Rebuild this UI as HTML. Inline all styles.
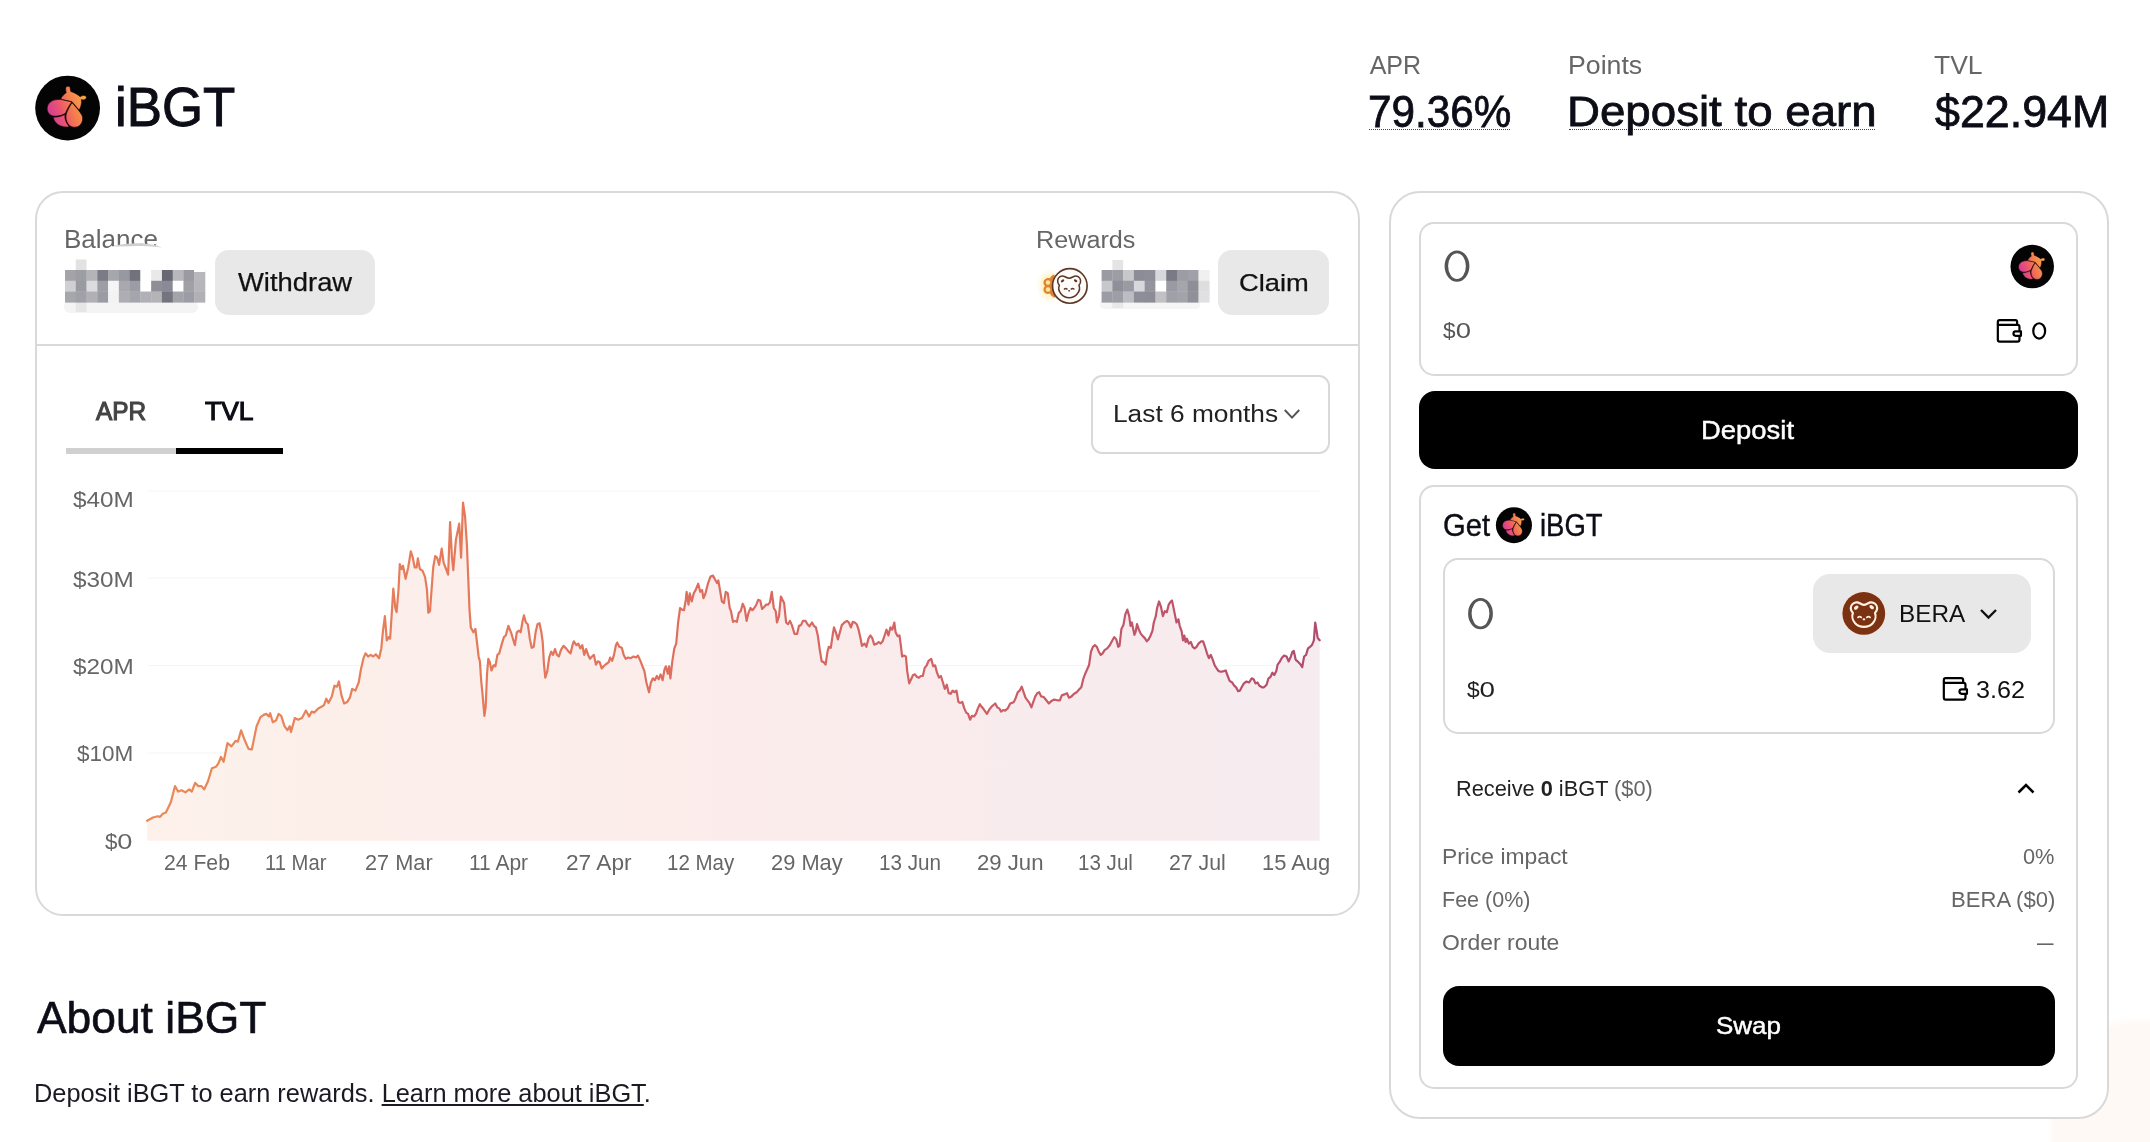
<!DOCTYPE html>
<html><head><meta charset="utf-8"><title>iBGT</title>
<style>
*{box-sizing:border-box;margin:0;padding:0}
html,body{width:2150px;height:1142px;overflow:hidden;background:#fff}
body{position:relative;font-family:"Liberation Sans",sans-serif;color:#0c0d16}
.t{position:absolute;white-space:nowrap;line-height:1}
.box{position:absolute;border:2px solid #d9d9d9;background:#fff}
.btn{position:absolute;background:#e8e8e8;border-radius:14px}
.blk{position:absolute;background:#000;border-radius:16px}
svg{position:absolute;overflow:visible}
</style></head><body>

<!-- shared symbols -->
<svg width="0" height="0" style="left:0;top:0">
<defs>
<linearGradient id="lg" gradientUnits="userSpaceOnUse" x1="250" y1="640" x2="850" y2="420"><stop offset="0" stop-color="#d0389e"/><stop offset="0.33" stop-color="#ec5470"/><stop offset="0.6" stop-color="#f47c4c"/><stop offset="1" stop-color="#f8ac4c"/></linearGradient>
<symbol id="ibgt" viewBox="0 0 1142 1142">
<circle cx="565" cy="572" r="487" fill="#040404"/>
<g fill="url(#lg)" stroke="#1a0508" stroke-width="9" stroke-linejoin="round">
<path d="M462 438C475 395 515 360 545 340C540 315 530 285 540 262C552 238 592 238 602 265C608 290 608 310 612 322C660 335 720 370 755 402C775 385 815 375 838 392C858 412 845 440 815 448C800 452 782 448 772 445C780 500 765 560 738 602L632 478Z"/>
<path d="M462 442L628 480C590 530 555 590 535 648C490 680 420 700 350 692C290 680 255 630 258 575C262 510 310 460 380 448C410 443 440 441 462 442Z"/>
<path d="M348 708C410 712 480 695 524 668C518 730 540 800 588 848C540 868 470 852 415 815C375 785 352 745 348 708Z"/>
<path d="M632 492C680 550 750 620 780 680C805 740 785 810 730 845C680 872 620 860 585 825C545 780 530 710 548 655C565 600 600 540 632 492Z"/>
</g>
</symbol>
<symbol id="wallet" viewBox="0 0 1923 1142">
<g fill="none" stroke="#000" stroke-width="66" stroke-linejoin="round">
<path d="M235 385V300Q235 245 290 245H760Q815 245 815 300V385"/>
<path d="M235 385H830Q885 385 885 440V835Q885 890 830 890H290Q235 890 235 835Z"/>
<path d="M930 580H770Q705 580 705 648Q705 715 770 715H930Z" fill="#fff"/>
</g>
</symbol>
</defs></svg>

<!-- corner blob -->
<div style="position:absolute;left:2051px;top:1021px;width:160px;height:200px;border-radius:80px 0 0 0;background:#fef9f5;filter:blur(2.500px)"></div>

<!-- header logo -->
<svg style="left:30px;top:70px" width="76" height="76"><use href="#ibgt" width="76" height="76"/></svg>

<div style="position:absolute;left:1369px;top:128.500px;width:141px;border-top:1.500px dotted #444"></div>
<div style="position:absolute;left:1569px;top:128.500px;width:306px;border-top:1.500px dotted #444"></div>

<!-- left card -->
<div class="box" style="left:34.500px;top:190.500px;width:1325px;height:725px;border-radius:28px"></div>
<div style="position:absolute;left:36px;top:343.500px;width:1322px;height:2px;background:#d9d9d9"></div>

<div class="btn" style="left:215px;top:250px;width:159.500px;height:65px"></div>
<div class="btn" style="left:1218px;top:250px;width:111px;height:64.500px"></div>

<!-- reward bear icon -->
<svg style="left:1030px;top:260px" width="64" height="52" viewBox="0 0 1406 1142">
<defs><radialGradient id="glow"><stop offset="0" stop-color="#ffe9a0" stop-opacity="0.95"/><stop offset="0.55" stop-color="#fff0bd" stop-opacity="0.7"/><stop offset="1" stop-color="#fff6da" stop-opacity="0"/></radialGradient></defs>
<ellipse cx="420" cy="570" rx="290" ry="400" fill="url(#glow)"/>
<path d="M540 320C480 330 450 370 440 400C380 380 300 420 295 490C292 530 315 560 330 570C300 600 290 640 300 680C320 740 390 760 440 735C455 780 500 820 560 830Z" fill="#dd8434"/>
<circle cx="395" cy="492" r="50" fill="#ffe690"/><circle cx="395" cy="647" r="50" fill="#ffe690"/>
<circle cx="875" cy="570" r="380" fill="#fffdfb" stroke="#5e3624" stroke-width="36"/>
<path d="M860 400C820 400 780 370 740 355C690 340 620 370 608 440C600 490 625 530 645 555C625 600 630 680 680 740C730 800 800 830 860 830C920 830 990 800 1040 740C1090 680 1095 600 1075 555C1095 530 1120 490 1110 440C1098 370 1030 340 980 355C940 370 900 400 860 400Z" fill="none" stroke="#5e3624" stroke-width="34" stroke-linejoin="round"/>
<ellipse cx="715" cy="458" rx="42" ry="26" transform="rotate(-35 715 458)" fill="#5e3624"/><ellipse cx="1002" cy="455" rx="42" ry="26" transform="rotate(35 1002 455)" fill="#5e3624"/>
<path d="M755 640Q785 615 815 640M905 640Q935 615 965 640" fill="none" stroke="#5e3624" stroke-width="30" stroke-linecap="round"/>
<ellipse cx="860" cy="678" rx="22" ry="17" fill="#5e3624"/>
</svg>

<svg style="left:0;top:0" width="2150" height="400" viewBox="0 0 2150 400"><rect x="64" y="300" width="134" height="13" rx="6" fill="#f4f4f4"/><rect x="75.77" y="259.5" width="10.77" height="10.5" fill="#e2e2e2"/><rect x="75.77" y="302" width="10.77" height="10" fill="#e6e6e6"/><rect x="65.00" y="270.00" width="11.07" height="11.07" fill="#a3a3a9"/><rect x="75.77" y="270.00" width="11.07" height="11.07" fill="#9d9da5"/><rect x="86.54" y="270.00" width="11.07" height="11.07" fill="#b3b3b8"/><rect x="97.31" y="270.00" width="11.07" height="11.07" fill="#7b7b86"/><rect x="108.08" y="270.00" width="11.07" height="11.07" fill="#a6a6ad"/><rect x="118.85" y="270.00" width="11.07" height="11.07" fill="#9898a2"/><rect x="129.62" y="270.00" width="11.07" height="11.07" fill="#72727d"/><rect x="140.39" y="270.00" width="11.07" height="11.07" fill="#ffffff"/><rect x="151.16" y="270.00" width="11.07" height="11.07" fill="#e9e9e9"/><rect x="161.93" y="270.00" width="11.07" height="11.07" fill="#686875"/><rect x="172.70" y="270.00" width="11.07" height="11.07" fill="#b8b8bc"/><rect x="183.47" y="270.00" width="11.07" height="11.07" fill="#9a9aa2"/><rect x="194.24" y="270.00" width="11.07" height="11.07" fill="#b7b7bc"/><rect x="65.00" y="280.77" width="11.07" height="11.07" fill="#d0d0d4"/><rect x="75.77" y="280.77" width="11.07" height="11.07" fill="#9a9aa2"/><rect x="86.54" y="280.77" width="11.07" height="11.07" fill="#dcdcdf"/><rect x="97.31" y="280.77" width="11.07" height="11.07" fill="#9d9da5"/><rect x="108.08" y="280.77" width="11.07" height="11.07" fill="#f5f5f5"/><rect x="118.85" y="280.77" width="11.07" height="11.07" fill="#a8a8ae"/><rect x="129.62" y="280.77" width="11.07" height="11.07" fill="#9c9ca5"/><rect x="140.39" y="280.77" width="11.07" height="11.07" fill="#ffffff"/><rect x="151.16" y="280.77" width="11.07" height="11.07" fill="#8e8e98"/><rect x="161.93" y="280.77" width="11.07" height="11.07" fill="#8a8a96"/><rect x="172.70" y="280.77" width="11.07" height="11.07" fill="#ffffff"/><rect x="183.47" y="280.77" width="11.07" height="11.07" fill="#a0a0a6"/><rect x="194.24" y="280.77" width="11.07" height="11.07" fill="#b5b5ba"/><rect x="65.00" y="291.54" width="11.07" height="11.07" fill="#a6a6ad"/><rect x="75.77" y="291.54" width="11.07" height="11.07" fill="#a0a0a8"/><rect x="86.54" y="291.54" width="11.07" height="11.07" fill="#b0b0b6"/><rect x="97.31" y="291.54" width="11.07" height="11.07" fill="#9b9ba3"/><rect x="108.08" y="291.54" width="11.07" height="11.07" fill="#f3f3f3"/><rect x="118.85" y="291.54" width="11.07" height="11.07" fill="#adadb3"/><rect x="129.62" y="291.54" width="11.07" height="11.07" fill="#a5a5ad"/><rect x="140.39" y="291.54" width="11.07" height="11.07" fill="#b0b0b6"/><rect x="151.16" y="291.54" width="11.07" height="11.07" fill="#b3b3b8"/><rect x="161.93" y="291.54" width="11.07" height="11.07" fill="#74747f"/><rect x="172.70" y="291.54" width="11.07" height="11.07" fill="#a3a3aa"/><rect x="183.47" y="291.54" width="11.07" height="11.07" fill="#9c9ca4"/><rect x="194.24" y="291.54" width="11.07" height="11.07" fill="#b0b0b6"/><rect x="194" y="270" width="11.500" height="2" fill="#fff"/><rect x="1100" y="300" width="100" height="9" rx="4" fill="#f5f5f5"/><rect x="1112.37" y="260" width="10.77" height="10" fill="#e4e4e4"/><rect x="1112.37" y="302" width="10.77" height="6" fill="#e8e8e8"/><rect x="1101.60" y="270.00" width="11.07" height="11.07" fill="#9a9aa2"/><rect x="1112.37" y="270.00" width="11.07" height="11.07" fill="#9d9da5"/><rect x="1123.14" y="270.00" width="11.07" height="11.07" fill="#c8c8cc"/><rect x="1133.91" y="270.00" width="11.07" height="11.07" fill="#8c8c96"/><rect x="1144.68" y="270.00" width="11.07" height="11.07" fill="#8e8e98"/><rect x="1155.45" y="270.00" width="11.07" height="11.07" fill="#d8d8dc"/><rect x="1166.22" y="270.00" width="11.07" height="11.07" fill="#7a7a86"/><rect x="1176.99" y="270.00" width="11.07" height="11.07" fill="#9c9ca4"/><rect x="1187.76" y="270.00" width="11.07" height="11.07" fill="#a0a0a8"/><rect x="1198.53" y="270.00" width="11.07" height="11.07" fill="#f0f0f0"/><rect x="1101.60" y="280.77" width="11.07" height="11.07" fill="#c8c8cc"/><rect x="1112.37" y="280.77" width="11.07" height="11.07" fill="#8f8f99"/><rect x="1123.14" y="280.77" width="11.07" height="11.07" fill="#9a9aa2"/><rect x="1133.91" y="280.77" width="11.07" height="11.07" fill="#d8d8dc"/><rect x="1144.68" y="280.77" width="11.07" height="11.07" fill="#94949e"/><rect x="1155.45" y="280.77" width="11.07" height="11.07" fill="#ffffff"/><rect x="1166.22" y="280.77" width="11.07" height="11.07" fill="#9a9aa2"/><rect x="1176.99" y="280.77" width="11.07" height="11.07" fill="#a5a5ad"/><rect x="1187.76" y="280.77" width="11.07" height="11.07" fill="#8e8e98"/><rect x="1198.53" y="280.77" width="11.07" height="11.07" fill="#dedee0"/><rect x="1101.60" y="291.54" width="11.07" height="11.07" fill="#9c9ca4"/><rect x="1112.37" y="291.54" width="11.07" height="11.07" fill="#9e9ea6"/><rect x="1123.14" y="291.54" width="11.07" height="11.07" fill="#bcbcc2"/><rect x="1133.91" y="291.54" width="11.07" height="11.07" fill="#8e8e98"/><rect x="1144.68" y="291.54" width="11.07" height="11.07" fill="#8c8c96"/><rect x="1155.45" y="291.54" width="11.07" height="11.07" fill="#c0c0c5"/><rect x="1166.22" y="291.54" width="11.07" height="11.07" fill="#a0a0a8"/><rect x="1176.99" y="291.54" width="11.07" height="11.07" fill="#a3a3aa"/><rect x="1187.76" y="291.54" width="11.07" height="11.07" fill="#90909a"/><rect x="1198.53" y="291.54" width="11.07" height="11.07" fill="#e0e0e2"/></svg>

<!-- tabs -->
<div style="position:absolute;left:65.500px;top:448px;width:110px;height:6px;background:#d0d0d0"></div>
<div style="position:absolute;left:175.500px;top:448px;width:107px;height:6px;background:#000"></div>

<div class="box" style="left:1090.500px;top:374.500px;width:239px;height:79px;border-radius:11px"></div>
<svg style="left:1284px;top:409px" width="16" height="10" viewBox="0 0 16 10"><path d="M0.800 1L8 8.600L15.200 1" fill="none" stroke="#555" stroke-width="2"/></svg>

<!-- chart -->
<svg id="chart" style="left:0;top:0" width="2150" height="1142" viewBox="0 0 2150 1142">
<defs>
<linearGradient id="cl" gradientUnits="userSpaceOnUse" x1="146" y1="0" x2="1320" y2="0"><stop offset="0" stop-color="#ea8a58"/><stop offset="0.4" stop-color="#e2725c"/><stop offset="0.7" stop-color="#cf5f64"/><stop offset="1" stop-color="#b14c6e"/></linearGradient>
<linearGradient id="cf" gradientUnits="userSpaceOnUse" x1="146" y1="0" x2="1320" y2="0"><stop offset="0" stop-color="#fdf1ea"/><stop offset="0.5" stop-color="#fbeceb"/><stop offset="1" stop-color="#f6ebef"/></linearGradient>
</defs>
<g stroke="#f5f5f5" stroke-width="1.200">
<line x1="148" y1="491" x2="1320" y2="491"/><line x1="148" y1="578" x2="1320" y2="578"/><line x1="148" y1="665.500" x2="1320" y2="665.500"/><line x1="148" y1="753" x2="1320" y2="753"/>
</g>
<path d="M147.1 820.8 L153.0 817.5 L157.8 816.2 L160.1 816.9 L162.7 813.7 L165.9 812.4 L170.8 802.3 L175.0 786.1 L178.2 791.6 L181.5 790.3 L185.4 792.3 L189.2 789.4 L191.8 791.6 L195.1 782.9 L198.3 786.1 L201.5 786.1 L204.1 789.4 L208.0 781.3 L211.9 768.3 L216.1 766.7 L218.4 763.4 L221.0 757.0 L223.6 761.8 L227.5 743.0 L231.4 746.3 L235.6 740.8 L237.8 741.7 L241.1 730.4 L244.3 739.2 L248.5 748.9 L251.8 749.5 L256.6 726.2 L260.5 717.1 L263.7 714.9 L266.3 713.9 L268.9 716.5 L270.2 713.2 L272.8 722.3 L276.1 720.4 L278.6 713.9 L281.2 715.8 L284.5 726.2 L287.4 730.1 L289.7 726.2 L291.0 732.0 L294.8 718.1 L298.1 719.7 L302.0 718.1 L305.9 710.6 L309.1 716.5 L311.7 711.6 L314.3 712.6 L318.2 708.4 L321.4 706.8 L324.0 705.1 L326.3 698.7 L328.5 702.9 L331.8 696.4 L334.4 685.7 L337.0 686.7 L338.9 681.5 L341.5 695.4 L344.1 703.5 L347.3 701.9 L349.9 697.7 L352.2 688.9 L355.4 690.6 L358.7 682.5 L360.9 669.5 L363.5 658.2 L365.5 653.3 L368.1 656.5 L370.6 654.9 L373.2 656.5 L375.8 654.3 L379.1 658.2 L381.3 648.4 L383.0 630.6 L384.9 616.1 L386.8 640.3 L388.8 637.1 L390.1 638.7 L392.0 609.6 L393.3 588.5 L395.3 608.0 L396.6 612.2 L398.5 590.1 L399.8 564.2 L401.7 569.1 L403.0 565.8 L405.6 578.8 L408.2 567.5 L410.8 551.3 L412.8 557.7 L414.7 567.5 L416.6 567.5 L417.9 558.4 L419.9 569.1 L422.5 570.7 L425.1 577.2 L427.0 590.1 L428.3 612.8 L430.0 611.2 L431.3 593.4 L433.2 567.5 L435.2 556.1 L437.1 557.7 L439.1 564.9 L441.7 548.7 L443.6 562.6 L445.5 567.5 L448.1 574.6 L450.1 522.1 L452.0 557.7 L453.3 570.1 L455.9 539.9 L459.2 523.7 L461.1 557.7 L463.0 502.7 L465.0 515.6 L466.9 544.8 L468.2 577.2 L469.5 609.6 L470.8 627.4 L473.4 632.3 L475.4 629.0 L477.3 645.2 L478.6 656.5 L479.9 661.4 L481.2 680.8 L482.5 693.8 L484.4 715.8 L485.7 706.8 L487.0 674.4 L488.3 658.8 L489.6 661.4 L491.5 670.5 L493.5 665.3 L495.4 666.3 L497.4 654.9 L499.3 653.3 L501.9 643.6 L503.9 637.1 L505.8 635.5 L508.4 625.8 L511.0 632.3 L512.9 638.7 L514.9 645.2 L516.8 632.3 L518.8 630.6 L520.7 632.3 L522.6 620.9 L523.9 615.4 L525.9 622.5 L527.8 624.2 L529.8 638.7 L531.7 647.8 L533.7 646.8 L535.6 632.3 L537.5 624.2 L539.5 623.2 L541.4 632.3 L542.7 642.0 L544.0 664.6 L545.3 677.6 L547.3 671.1 L549.2 657.5 L551.2 651.7 L553.1 654.9 L555.0 649.1 L557.0 654.9 L558.9 656.5 L560.9 650.1 L563.5 645.9 L566.1 648.4 L568.6 651.7 L570.6 653.3 L572.5 645.2 L573.8 641.3 L576.4 645.2 L578.4 643.6 L580.3 648.4 L582.3 645.2 L584.2 654.9 L586.1 649.1 L588.1 654.9 L590.0 658.8 L592.0 656.5 L593.9 654.9 L595.9 664.6 L597.8 661.4 L599.7 662.1 L601.7 668.5 L603.6 666.3 L606.2 664.0 L608.8 662.1 L610.1 657.5 L612.1 660.8 L614.0 654.9 L615.9 645.2 L617.2 642.6 L619.2 646.8 L621.8 647.8 L623.7 654.9 L625.7 658.8 L628.3 657.5 L630.8 658.2 L633.4 656.5 L636.0 657.5 L638.0 655.6 L640.6 661.4 L642.5 666.3 L644.4 671.1 L646.4 682.5 L649.0 692.2 L650.9 682.5 L652.9 678.3 L654.8 680.2 L656.8 676.0 L658.7 679.2 L660.6 674.4 L662.6 680.2 L664.5 669.5 L665.8 666.3 L667.8 673.7 L669.1 666.3 L670.4 678.3 L672.3 661.4 L674.3 648.4 L676.2 643.6 L678.1 622.5 L680.1 608.0 L682.0 609.6 L684.0 610.2 L685.9 599.2 L686.6 591.8 L688.5 604.7 L689.8 593.4 L691.7 601.5 L693.7 593.4 L695.6 590.1 L698.2 583.7 L700.2 591.8 L702.1 590.1 L703.4 598.2 L705.3 594.0 L707.9 583.7 L710.5 576.5 L713.1 575.6 L715.1 579.8 L717.0 583.0 L718.3 580.4 L720.0 590.1 L721.9 601.5 L723.9 603.1 L725.8 591.8 L727.8 593.4 L729.7 608.0 L731.0 611.2 L733.0 621.9 L734.9 620.9 L736.8 621.9 L738.8 612.8 L740.7 611.2 L742.7 603.7 L744.6 608.0 L746.6 620.9 L748.5 612.8 L750.5 608.0 L752.4 610.2 L754.3 608.0 L756.3 604.7 L758.2 599.9 L760.2 600.5 L762.1 608.9 L764.1 607.0 L766.0 604.7 L767.9 604.7 L769.9 602.4 L771.8 591.8 L773.8 608.0 L775.7 611.2 L777.0 622.5 L779.0 616.1 L780.9 596.6 L782.8 600.5 L784.1 603.1 L786.1 622.5 L788.0 624.2 L790.0 620.9 L791.9 625.1 L794.5 633.9 L797.1 633.9 L799.0 625.8 L801.0 625.1 L802.9 620.9 L805.5 620.9 L807.5 624.2 L809.4 626.4 L812.0 622.5 L813.9 625.8 L815.9 627.4 L817.8 635.5 L819.8 650.1 L821.7 661.4 L823.7 662.1 L825.6 664.6 L827.5 651.7 L828.8 646.8 L830.8 647.8 L832.7 634.8 L834.0 627.4 L836.0 632.9 L837.9 639.4 L839.9 632.3 L841.8 625.1 L844.4 622.5 L847.0 620.9 L848.9 622.5 L850.9 627.4 L852.8 621.9 L854.8 622.5 L856.7 624.2 L858.6 629.7 L860.6 638.7 L861.9 645.9 L864.5 643.6 L866.4 646.8 L868.4 638.7 L870.3 635.5 L872.3 638.1 L874.2 644.6 L876.8 643.6 L878.7 642.0 L880.7 643.6 L882.6 641.3 L884.6 635.5 L886.5 629.7 L888.4 635.5 L890.4 627.4 L892.3 629.7 L894.3 622.5 L895.6 632.3 L897.5 636.1 L899.5 635.5 L900.8 645.2 L902.1 656.5 L904.0 655.6 L905.9 656.5 L907.2 671.1 L909.2 683.4 L911.1 679.2 L913.1 675.0 L915.0 674.4 L917.0 677.0 L918.9 677.6 L920.8 676.0 L922.8 676.0 L924.7 667.9 L926.7 665.3 L928.6 660.8 L931.2 658.8 L933.2 666.3 L935.1 665.3 L937.0 672.7 L939.0 677.6 L940.9 676.0 L942.9 682.5 L944.8 688.9 L946.8 684.7 L948.7 693.2 L950.6 693.8 L952.6 690.6 L954.5 692.2 L956.5 690.6 L958.4 701.9 L960.4 702.9 L962.3 701.9 L964.3 708.4 L966.2 712.6 L968.1 713.9 L970.1 719.7 L972.0 715.8 L974.0 716.5 L975.9 713.9 L977.9 708.4 L979.8 704.2 L981.7 706.8 L983.7 709.3 L986.9 713.9 L989.5 709.3 L992.1 706.1 L995.3 703.5 L997.3 707.4 L999.2 708.4 L1001.2 711.6 L1003.1 710.0 L1005.1 710.6 L1007.7 708.4 L1010.2 703.5 L1011.9 702.9 L1013.9 701.9 L1015.8 697.7 L1017.8 692.2 L1019.7 690.6 L1021.7 686.7 L1023.6 692.2 L1025.5 697.7 L1027.5 700.3 L1029.4 702.9 L1031.4 707.4 L1033.3 701.9 L1035.3 696.4 L1037.2 693.2 L1039.2 692.2 L1041.1 696.4 L1043.7 697.0 L1046.3 700.3 L1048.9 703.5 L1051.5 700.9 L1054.1 699.6 L1057.3 700.3 L1059.9 700.3 L1061.8 695.4 L1064.4 694.4 L1067.0 693.2 L1069.0 697.7 L1071.5 696.4 L1074.1 693.8 L1076.7 692.2 L1078.7 689.9 L1081.3 687.3 L1083.2 679.2 L1085.2 673.7 L1087.1 669.5 L1089.0 665.3 L1091.0 651.7 L1092.9 646.8 L1094.9 645.2 L1096.8 646.8 L1098.8 651.7 L1100.7 654.9 L1102.6 653.3 L1104.6 650.1 L1107.2 648.4 L1109.8 645.2 L1112.4 640.3 L1114.3 637.1 L1116.3 639.4 L1118.2 646.8 L1119.5 645.9 L1121.4 629.0 L1123.4 625.1 L1125.3 614.4 L1127.3 609.6 L1129.2 616.1 L1130.5 625.8 L1131.8 622.5 L1133.1 628.4 L1134.4 634.8 L1135.7 631.6 L1137.0 624.2 L1138.9 629.7 L1140.9 633.9 L1142.8 636.1 L1144.8 638.1 L1146.7 641.3 L1148.6 639.4 L1150.6 635.5 L1152.5 630.6 L1153.8 622.5 L1155.8 616.1 L1157.1 608.0 L1159.0 601.5 L1161.0 607.0 L1162.9 616.1 L1164.8 611.2 L1166.8 612.2 L1168.7 604.7 L1170.7 601.5 L1172.0 600.5 L1173.9 609.6 L1175.2 616.1 L1176.5 622.5 L1178.4 619.3 L1179.7 625.8 L1181.7 631.6 L1183.0 640.3 L1184.3 635.5 L1185.6 642.0 L1186.9 638.7 L1188.8 643.6 L1190.8 642.0 L1192.7 646.8 L1194.6 648.4 L1196.6 646.8 L1198.5 643.6 L1201.1 641.3 L1203.1 641.3 L1205.0 646.8 L1207.0 653.3 L1208.9 658.2 L1210.8 654.9 L1212.8 659.8 L1214.7 665.3 L1216.7 668.5 L1218.6 671.1 L1221.2 671.8 L1223.8 671.1 L1225.7 670.5 L1227.7 676.0 L1229.6 680.8 L1232.2 682.5 L1234.2 685.7 L1236.1 687.3 L1238.1 691.2 L1240.0 690.6 L1241.9 686.7 L1243.9 683.4 L1246.5 681.5 L1249.1 682.5 L1251.7 678.3 L1253.6 679.2 L1255.5 683.4 L1257.5 682.5 L1259.4 685.7 L1262.0 687.3 L1264.0 687.3 L1266.6 684.7 L1268.5 678.3 L1270.4 677.0 L1272.4 672.7 L1274.3 675.0 L1276.3 671.1 L1277.6 664.6 L1279.5 662.1 L1282.1 657.5 L1284.1 655.6 L1286.6 656.5 L1288.6 661.4 L1290.5 657.5 L1292.5 651.7 L1293.8 651.0 L1295.7 659.8 L1297.7 661.4 L1300.2 664.0 L1302.2 667.2 L1304.1 656.5 L1306.1 654.9 L1308.0 648.4 L1310.0 646.8 L1311.9 645.2 L1313.9 640.3 L1315.2 622.5 L1316.4 629.7 L1317.7 638.1 L1319.7 640.3 L1319.7 840.8 L147.1 840.8 Z" fill="url(#cf)"/>
<path d="M147.1 820.8 L153.0 817.5 L157.8 816.2 L160.1 816.9 L162.7 813.7 L165.9 812.4 L170.8 802.3 L175.0 786.1 L178.2 791.6 L181.5 790.3 L185.4 792.3 L189.2 789.4 L191.8 791.6 L195.1 782.9 L198.3 786.1 L201.5 786.1 L204.1 789.4 L208.0 781.3 L211.9 768.3 L216.1 766.7 L218.4 763.4 L221.0 757.0 L223.6 761.8 L227.5 743.0 L231.4 746.3 L235.6 740.8 L237.8 741.7 L241.1 730.4 L244.3 739.2 L248.5 748.9 L251.8 749.5 L256.6 726.2 L260.5 717.1 L263.7 714.9 L266.3 713.9 L268.9 716.5 L270.2 713.2 L272.8 722.3 L276.1 720.4 L278.6 713.9 L281.2 715.8 L284.5 726.2 L287.4 730.1 L289.7 726.2 L291.0 732.0 L294.8 718.1 L298.1 719.7 L302.0 718.1 L305.9 710.6 L309.1 716.5 L311.7 711.6 L314.3 712.6 L318.2 708.4 L321.4 706.8 L324.0 705.1 L326.3 698.7 L328.5 702.9 L331.8 696.4 L334.4 685.7 L337.0 686.7 L338.9 681.5 L341.5 695.4 L344.1 703.5 L347.3 701.9 L349.9 697.7 L352.2 688.9 L355.4 690.6 L358.7 682.5 L360.9 669.5 L363.5 658.2 L365.5 653.3 L368.1 656.5 L370.6 654.9 L373.2 656.5 L375.8 654.3 L379.1 658.2 L381.3 648.4 L383.0 630.6 L384.9 616.1 L386.8 640.3 L388.8 637.1 L390.1 638.7 L392.0 609.6 L393.3 588.5 L395.3 608.0 L396.6 612.2 L398.5 590.1 L399.8 564.2 L401.7 569.1 L403.0 565.8 L405.6 578.8 L408.2 567.5 L410.8 551.3 L412.8 557.7 L414.7 567.5 L416.6 567.5 L417.9 558.4 L419.9 569.1 L422.5 570.7 L425.1 577.2 L427.0 590.1 L428.3 612.8 L430.0 611.2 L431.3 593.4 L433.2 567.5 L435.2 556.1 L437.1 557.7 L439.1 564.9 L441.7 548.7 L443.6 562.6 L445.5 567.5 L448.1 574.6 L450.1 522.1 L452.0 557.7 L453.3 570.1 L455.9 539.9 L459.2 523.7 L461.1 557.7 L463.0 502.7 L465.0 515.6 L466.9 544.8 L468.2 577.2 L469.5 609.6 L470.8 627.4 L473.4 632.3 L475.4 629.0 L477.3 645.2 L478.6 656.5 L479.9 661.4 L481.2 680.8 L482.5 693.8 L484.4 715.8 L485.7 706.8 L487.0 674.4 L488.3 658.8 L489.6 661.4 L491.5 670.5 L493.5 665.3 L495.4 666.3 L497.4 654.9 L499.3 653.3 L501.9 643.6 L503.9 637.1 L505.8 635.5 L508.4 625.8 L511.0 632.3 L512.9 638.7 L514.9 645.2 L516.8 632.3 L518.8 630.6 L520.7 632.3 L522.6 620.9 L523.9 615.4 L525.9 622.5 L527.8 624.2 L529.8 638.7 L531.7 647.8 L533.7 646.8 L535.6 632.3 L537.5 624.2 L539.5 623.2 L541.4 632.3 L542.7 642.0 L544.0 664.6 L545.3 677.6 L547.3 671.1 L549.2 657.5 L551.2 651.7 L553.1 654.9 L555.0 649.1 L557.0 654.9 L558.9 656.5 L560.9 650.1 L563.5 645.9 L566.1 648.4 L568.6 651.7 L570.6 653.3 L572.5 645.2 L573.8 641.3 L576.4 645.2 L578.4 643.6 L580.3 648.4 L582.3 645.2 L584.2 654.9 L586.1 649.1 L588.1 654.9 L590.0 658.8 L592.0 656.5 L593.9 654.9 L595.9 664.6 L597.8 661.4 L599.7 662.1 L601.7 668.5 L603.6 666.3 L606.2 664.0 L608.8 662.1 L610.1 657.5 L612.1 660.8 L614.0 654.9 L615.9 645.2 L617.2 642.6 L619.2 646.8 L621.8 647.8 L623.7 654.9 L625.7 658.8 L628.3 657.5 L630.8 658.2 L633.4 656.5 L636.0 657.5 L638.0 655.6 L640.6 661.4 L642.5 666.3 L644.4 671.1 L646.4 682.5 L649.0 692.2 L650.9 682.5 L652.9 678.3 L654.8 680.2 L656.8 676.0 L658.7 679.2 L660.6 674.4 L662.6 680.2 L664.5 669.5 L665.8 666.3 L667.8 673.7 L669.1 666.3 L670.4 678.3 L672.3 661.4 L674.3 648.4 L676.2 643.6 L678.1 622.5 L680.1 608.0 L682.0 609.6 L684.0 610.2 L685.9 599.2 L686.6 591.8 L688.5 604.7 L689.8 593.4 L691.7 601.5 L693.7 593.4 L695.6 590.1 L698.2 583.7 L700.2 591.8 L702.1 590.1 L703.4 598.2 L705.3 594.0 L707.9 583.7 L710.5 576.5 L713.1 575.6 L715.1 579.8 L717.0 583.0 L718.3 580.4 L720.0 590.1 L721.9 601.5 L723.9 603.1 L725.8 591.8 L727.8 593.4 L729.7 608.0 L731.0 611.2 L733.0 621.9 L734.9 620.9 L736.8 621.9 L738.8 612.8 L740.7 611.2 L742.7 603.7 L744.6 608.0 L746.6 620.9 L748.5 612.8 L750.5 608.0 L752.4 610.2 L754.3 608.0 L756.3 604.7 L758.2 599.9 L760.2 600.5 L762.1 608.9 L764.1 607.0 L766.0 604.7 L767.9 604.7 L769.9 602.4 L771.8 591.8 L773.8 608.0 L775.7 611.2 L777.0 622.5 L779.0 616.1 L780.9 596.6 L782.8 600.5 L784.1 603.1 L786.1 622.5 L788.0 624.2 L790.0 620.9 L791.9 625.1 L794.5 633.9 L797.1 633.9 L799.0 625.8 L801.0 625.1 L802.9 620.9 L805.5 620.9 L807.5 624.2 L809.4 626.4 L812.0 622.5 L813.9 625.8 L815.9 627.4 L817.8 635.5 L819.8 650.1 L821.7 661.4 L823.7 662.1 L825.6 664.6 L827.5 651.7 L828.8 646.8 L830.8 647.8 L832.7 634.8 L834.0 627.4 L836.0 632.9 L837.9 639.4 L839.9 632.3 L841.8 625.1 L844.4 622.5 L847.0 620.9 L848.9 622.5 L850.9 627.4 L852.8 621.9 L854.8 622.5 L856.7 624.2 L858.6 629.7 L860.6 638.7 L861.9 645.9 L864.5 643.6 L866.4 646.8 L868.4 638.7 L870.3 635.5 L872.3 638.1 L874.2 644.6 L876.8 643.6 L878.7 642.0 L880.7 643.6 L882.6 641.3 L884.6 635.5 L886.5 629.7 L888.4 635.5 L890.4 627.4 L892.3 629.7 L894.3 622.5 L895.6 632.3 L897.5 636.1 L899.5 635.5 L900.8 645.2 L902.1 656.5 L904.0 655.6 L905.9 656.5 L907.2 671.1 L909.2 683.4 L911.1 679.2 L913.1 675.0 L915.0 674.4 L917.0 677.0 L918.9 677.6 L920.8 676.0 L922.8 676.0 L924.7 667.9 L926.7 665.3 L928.6 660.8 L931.2 658.8 L933.2 666.3 L935.1 665.3 L937.0 672.7 L939.0 677.6 L940.9 676.0 L942.9 682.5 L944.8 688.9 L946.8 684.7 L948.7 693.2 L950.6 693.8 L952.6 690.6 L954.5 692.2 L956.5 690.6 L958.4 701.9 L960.4 702.9 L962.3 701.9 L964.3 708.4 L966.2 712.6 L968.1 713.9 L970.1 719.7 L972.0 715.8 L974.0 716.5 L975.9 713.9 L977.9 708.4 L979.8 704.2 L981.7 706.8 L983.7 709.3 L986.9 713.9 L989.5 709.3 L992.1 706.1 L995.3 703.5 L997.3 707.4 L999.2 708.4 L1001.2 711.6 L1003.1 710.0 L1005.1 710.6 L1007.7 708.4 L1010.2 703.5 L1011.9 702.9 L1013.9 701.9 L1015.8 697.7 L1017.8 692.2 L1019.7 690.6 L1021.7 686.7 L1023.6 692.2 L1025.5 697.7 L1027.5 700.3 L1029.4 702.9 L1031.4 707.4 L1033.3 701.9 L1035.3 696.4 L1037.2 693.2 L1039.2 692.2 L1041.1 696.4 L1043.7 697.0 L1046.3 700.3 L1048.9 703.5 L1051.5 700.9 L1054.1 699.6 L1057.3 700.3 L1059.9 700.3 L1061.8 695.4 L1064.4 694.4 L1067.0 693.2 L1069.0 697.7 L1071.5 696.4 L1074.1 693.8 L1076.7 692.2 L1078.7 689.9 L1081.3 687.3 L1083.2 679.2 L1085.2 673.7 L1087.1 669.5 L1089.0 665.3 L1091.0 651.7 L1092.9 646.8 L1094.9 645.2 L1096.8 646.8 L1098.8 651.7 L1100.7 654.9 L1102.6 653.3 L1104.6 650.1 L1107.2 648.4 L1109.8 645.2 L1112.4 640.3 L1114.3 637.1 L1116.3 639.4 L1118.2 646.8 L1119.5 645.9 L1121.4 629.0 L1123.4 625.1 L1125.3 614.4 L1127.3 609.6 L1129.2 616.1 L1130.5 625.8 L1131.8 622.5 L1133.1 628.4 L1134.4 634.8 L1135.7 631.6 L1137.0 624.2 L1138.9 629.7 L1140.9 633.9 L1142.8 636.1 L1144.8 638.1 L1146.7 641.3 L1148.6 639.4 L1150.6 635.5 L1152.5 630.6 L1153.8 622.5 L1155.8 616.1 L1157.1 608.0 L1159.0 601.5 L1161.0 607.0 L1162.9 616.1 L1164.8 611.2 L1166.8 612.2 L1168.7 604.7 L1170.7 601.5 L1172.0 600.5 L1173.9 609.6 L1175.2 616.1 L1176.5 622.5 L1178.4 619.3 L1179.7 625.8 L1181.7 631.6 L1183.0 640.3 L1184.3 635.5 L1185.6 642.0 L1186.9 638.7 L1188.8 643.6 L1190.8 642.0 L1192.7 646.8 L1194.6 648.4 L1196.6 646.8 L1198.5 643.6 L1201.1 641.3 L1203.1 641.3 L1205.0 646.8 L1207.0 653.3 L1208.9 658.2 L1210.8 654.9 L1212.8 659.8 L1214.7 665.3 L1216.7 668.5 L1218.6 671.1 L1221.2 671.8 L1223.8 671.1 L1225.7 670.5 L1227.7 676.0 L1229.6 680.8 L1232.2 682.5 L1234.2 685.7 L1236.1 687.3 L1238.1 691.2 L1240.0 690.6 L1241.9 686.7 L1243.9 683.4 L1246.5 681.5 L1249.1 682.5 L1251.7 678.3 L1253.6 679.2 L1255.5 683.4 L1257.5 682.5 L1259.4 685.7 L1262.0 687.3 L1264.0 687.3 L1266.6 684.7 L1268.5 678.3 L1270.4 677.0 L1272.4 672.7 L1274.3 675.0 L1276.3 671.1 L1277.6 664.6 L1279.5 662.1 L1282.1 657.5 L1284.1 655.6 L1286.6 656.5 L1288.6 661.4 L1290.5 657.5 L1292.5 651.7 L1293.8 651.0 L1295.7 659.8 L1297.7 661.4 L1300.2 664.0 L1302.2 667.2 L1304.1 656.5 L1306.1 654.9 L1308.0 648.4 L1310.0 646.8 L1311.9 645.2 L1313.9 640.3 L1315.2 622.5 L1316.4 629.7 L1317.7 638.1 L1319.7 640.3" fill="none" stroke="url(#cl)" stroke-width="2.200" stroke-linejoin="round" stroke-linecap="round"/>
</svg>

<!-- right card -->
<div class="box" style="left:1388.500px;top:190.500px;width:720.500px;height:928px;border-radius:31px"></div>
<div class="box" style="left:1419px;top:221.500px;width:659px;height:154.500px;border-radius:15px"></div>
<div class="blk" style="left:1419px;top:390.500px;width:659px;height:78.500px"></div>
<div class="box" style="left:1419px;top:484.500px;width:659px;height:604.500px;border-radius:15px"></div>
<div class="box" style="left:1443px;top:558px;width:611.500px;height:176px;border-radius:15px"></div>
<div class="btn" style="left:1813px;top:574px;width:218px;height:79px;border-radius:17px"></div>
<div class="blk" style="left:1442.500px;top:986px;width:612px;height:79.500px"></div>

<svg style="left:0;top:0" width="2150" height="1142" viewBox="0 0 2150 1142">
<path fill="#555" fill-rule="evenodd" d="M1444.600 266.100a12.400 15.700 0 1 0 24.800 0a12.400 15.700 0 1 0 -24.800 0ZM1448.100 266.100a8.900 12.900 0 1 0 17.800 0a8.900 12.900 0 1 0 -17.800 0Z"/>
<path fill="#555" fill-rule="evenodd" d="M1468.100 613.600a12.400 15.700 0 1 0 24.800 0a12.400 15.700 0 1 0 -24.800 0ZM1471.600 613.600a8.900 12.900 0 1 0 17.800 0a8.900 12.900 0 1 0 -17.800 0Z"/>
<ellipse cx="2039.200" cy="330.900" rx="5.950" ry="7.650" fill="none" stroke="#000" stroke-width="2.200"/>
<path d="M1981 610L1988.500 617.500L1996 610" fill="none" stroke="#111" stroke-width="2.400"/>
<path d="M2018.500 792.500L2026 785L2033.500 792.500" fill="none" stroke="#000" stroke-width="2.500"/>
<rect x="2037" y="943.400" width="16.500" height="1.600" fill="#666"/>
</svg>

<!-- token icons -->
<svg style="left:2007.200px;top:240.800px" width="51" height="51"><use href="#ibgt" width="51" height="51"/></svg>
<svg style="left:1493.400px;top:504.400px" width="42.300" height="42.300"><use href="#ibgt" width="42.300" height="42.300"/></svg>
<svg style="left:1990px;top:312px" width="64" height="38"><use href="#wallet" width="64" height="38"/></svg>
<svg style="left:1936px;top:670.200px" width="64" height="38"><use href="#wallet" width="64" height="38"/></svg>

<!-- BERA icon -->
<svg style="left:1836px;top:586px" width="56" height="56" viewBox="0 0 1142 1142">
<circle cx="567" cy="560" r="450" fill="#fbe3d4"/>
<circle cx="567" cy="560" r="436" fill="#7b3213"/>
<path d="M570 385C530 385 490 345 440 335C370 325 300 380 300 450C300 500 325 530 345 550C320 610 335 700 390 760C440 815 510 835 570 835C630 835 700 815 750 760C805 700 820 610 795 550C815 530 840 500 840 450C840 380 770 325 700 335C650 345 610 385 570 385Z" fill="none" stroke="#fff0df" stroke-width="44" stroke-linejoin="round"/>
<ellipse cx="412" cy="440" rx="52" ry="34" transform="rotate(-38 412 440)" fill="#fff0df"/><ellipse cx="728" cy="432" rx="52" ry="34" transform="rotate(38 728 432)" fill="#fff0df"/>
<path d="M448 640Q482 612 516 640M628 640Q662 612 696 640" fill="none" stroke="#fff0df" stroke-width="34" stroke-linecap="round"/>
<ellipse cx="570" cy="680" rx="28" ry="22" fill="#fff0df"/>
</svg>

<div id="txt" style="position:absolute;left:0;top:0;width:2150px;height:1142px;will-change:transform">
<div class="t" id="title" style="left:114.71px;top:79.00px;font-size:56.23px;letter-spacing:0.000px;transform:scaleX(0.9390);transform-origin:0 0;color:#0c0d16;-webkit-text-stroke:1.0px #0c0d16;">iBGT</div>
<div class="t" id="h_apr" style="left:1369.66px;top:53.22px;font-size:25.03px;letter-spacing:0.000px;color:#666;">APR</div>
<div class="t" id="v_apr" style="left:1368.00px;top:90.20px;font-size:44.35px;letter-spacing:0.000px;transform:scaleX(0.9524);transform-origin:0 0;color:#0c0d16;-webkit-text-stroke:0.8px #0c0d16;">79.36%</div>
<div class="t" id="h_pts" style="left:1567.65px;top:53.45px;font-size:24.96px;letter-spacing:0.000px;transform:scaleX(1.0703);transform-origin:0 0;color:#666;">Points</div>
<div class="t" id="v_pts" style="left:1566.67px;top:90.18px;font-size:42.61px;letter-spacing:0.000px;transform:scaleX(1.0715);transform-origin:0 0;color:#0c0d16;-webkit-text-stroke:0.8px #0c0d16;">Deposit to earn</div>
<div class="t" id="h_tvl" style="left:1933.92px;top:53.24px;font-size:25.00px;letter-spacing:0.000px;transform:scaleX(1.0595);transform-origin:0 0;color:#666;">TVL</div>
<div class="t" id="v_tvl" style="left:1934.50px;top:89.58px;font-size:44.54px;letter-spacing:0.000px;transform:scaleX(1.0058);transform-origin:0 0;color:#0c0d16;-webkit-text-stroke:0.8px #0c0d16;">$22.94M</div>
<div class="t" id="l_bal" style="left:64.42px;top:227.08px;font-size:25.70px;letter-spacing:0.000px;transform:scaleX(1.0132);transform-origin:0 0;color:#666;">Balance</div>
<div class="t" id="b_wd" style="left:237.88px;top:269.98px;font-size:25.81px;letter-spacing:0.000px;transform:scaleX(1.0617);transform-origin:0 0;color:#111;-webkit-text-stroke:0.25px #111;">Withdraw</div>
<div class="t" id="l_rew" style="left:1035.75px;top:227.97px;font-size:24.39px;letter-spacing:0.000px;transform:scaleX(1.0333);transform-origin:0 0;color:#666;">Rewards</div>
<div class="t" id="b_cl" style="left:1238.73px;top:271.78px;font-size:23.63px;letter-spacing:0.000px;transform:scaleX(1.1564);transform-origin:0 0;color:#111;-webkit-text-stroke:0.25px #111;">Claim</div>
<div class="t" id="tab_apr" style="left:95.53px;top:399.25px;font-size:24.99px;letter-spacing:0.000px;transform:scaleX(0.9763);transform-origin:0 0;color:#444;-webkit-text-stroke:1.1px #444;">APR</div>
<div class="t" id="tab_tvl" style="left:205.40px;top:399.25px;font-size:24.99px;letter-spacing:0.000px;transform:scaleX(1.0588);transform-origin:0 0;color:#0c0d16;-webkit-text-stroke:1.1px #0c0d16;">TVL</div>
<div class="t" id="dd" style="left:1112.99px;top:402.37px;font-size:24.39px;letter-spacing:0.000px;transform:scaleX(1.0785);transform-origin:0 0;color:#222;">Last 6 months</div>
<div class="t" id="y40" style="left:72.50px;top:488.30px;font-size:22.94px;letter-spacing:0.000px;transform:scaleX(1.0610);transform-origin:0 0;color:#666;">$40M</div>
<div class="t" id="y30" style="left:72.68px;top:569.31px;font-size:22.35px;letter-spacing:0.000px;transform:scaleX(1.0880);transform-origin:0 0;color:#666;">$30M</div>
<div class="t" id="y20" style="left:72.67px;top:655.88px;font-size:22.03px;letter-spacing:0.000px;transform:scaleX(1.1043);transform-origin:0 0;color:#666;">$20M</div>
<div class="t" id="y10" style="left:76.91px;top:743.31px;font-size:22.35px;letter-spacing:0.000px;transform:scaleX(1.0070);transform-origin:0 0;color:#666;">$10M</div>
<div class="t" id="y0" style="left:105.38px;top:830.67px;font-size:21.80px;letter-spacing:0.000px;transform:scaleX(1.0237);transform-origin:0 0;color:#666;">$<span style="display:inline-block;transform:scaleX(1.22);transform-origin:0 50%;margin-right:0.12em">0</span></div>
<div class="t" id="x0" style="left:163.84px;top:851.14px;font-size:22.82px;letter-spacing:0.000px;transform:scaleX(0.9279);transform-origin:0 0;color:#666;">24 Feb</div>
<div class="t" id="x1" style="left:265.15px;top:852.30px;font-size:22.22px;letter-spacing:0.000px;transform:scaleX(0.9096);transform-origin:0 0;color:#666;">11 Mar</div>
<div class="t" id="x2" style="left:365.41px;top:852.30px;font-size:22.22px;letter-spacing:0.000px;transform:scaleX(0.9779);transform-origin:0 0;color:#666;">27 Mar</div>
<div class="t" id="x3" style="left:469.04px;top:852.31px;font-size:22.21px;letter-spacing:0.000px;transform:scaleX(0.9444);transform-origin:0 0;color:#666;">11 Apr</div>
<div class="t" id="x4" style="left:565.97px;top:851.14px;font-size:22.82px;letter-spacing:0.000px;transform:scaleX(0.9936);transform-origin:0 0;color:#666;">27 Apr</div>
<div class="t" id="x5" style="left:667.37px;top:852.31px;font-size:22.21px;letter-spacing:0.000px;transform:scaleX(0.9228);transform-origin:0 0;color:#666;">12 May</div>
<div class="t" id="x6" style="left:771.18px;top:851.14px;font-size:22.82px;letter-spacing:0.000px;transform:scaleX(0.9580);transform-origin:0 0;color:#666;">29 May</div>
<div class="t" id="x7" style="left:879.41px;top:852.30px;font-size:22.22px;letter-spacing:0.000px;transform:scaleX(0.9295);transform-origin:0 0;color:#666;">13 Jun</div>
<div class="t" id="x8" style="left:977.30px;top:851.14px;font-size:22.82px;letter-spacing:0.000px;transform:scaleX(0.9705);transform-origin:0 0;color:#666;">29 Jun</div>
<div class="t" id="x9" style="left:1078.42px;top:852.30px;font-size:22.22px;letter-spacing:0.000px;transform:scaleX(0.9264);transform-origin:0 0;color:#666;">13 Jul</div>
<div class="t" id="x10" style="left:1168.56px;top:851.14px;font-size:22.82px;letter-spacing:0.000px;transform:scaleX(0.9334);transform-origin:0 0;color:#666;">27 Jul</div>
<div class="t" id="x11" style="left:1262.30px;top:852.30px;font-size:22.22px;letter-spacing:0.000px;transform:scaleX(0.9861);transform-origin:0 0;color:#666;">15 Aug</div>
<div class="t" id="about" style="left:37.39px;top:995.64px;font-size:44.23px;letter-spacing:0.000px;transform:scaleX(1.0034);transform-origin:0 0;color:#0c0d16;-webkit-text-stroke:0.6px #0c0d16;">About iBGT</div>
<div class="t" id="about_p" style="left:34.08px;top:1079.83px;font-size:26.09px;letter-spacing:0.000px;transform:scaleX(0.9723);transform-origin:0 0;color:#1a1a22;">Deposit iBGT to earn rewards. <span style="text-decoration:underline;text-decoration-thickness:1.5px;text-underline-offset:1.5px">Learn more about iBGT</span>.</div>
<div class="t" id="r_usd1" style="left:1443.29px;top:319.61px;font-size:21.16px;letter-spacing:0.000px;transform:scaleX(1.0643);transform-origin:0 0;color:#555;">$<span style="display:inline-block;transform:scaleX(1.22);transform-origin:0 50%;margin-right:0.12em">0</span></div>
<div class="t" id="b_dep" style="left:1701.32px;top:416.83px;font-size:26.09px;letter-spacing:0.000px;transform:scaleX(1.0522);transform-origin:0 0;color:#fff;-webkit-text-stroke:0.45px #fff;">Deposit</div>
<div class="t" id="get" style="left:1443.13px;top:509.68px;font-size:31.20px;letter-spacing:0.000px;transform:scaleX(0.9373);transform-origin:0 0;color:#0c0d16;-webkit-text-stroke:0.4px #0c0d16;">Get</div>
<div class="t" id="get2" style="left:1539.97px;top:509.68px;font-size:31.20px;letter-spacing:0.000px;transform:scaleX(0.8823);transform-origin:0 0;color:#0c0d16;-webkit-text-stroke:0.4px #0c0d16;">iBGT</div>
<div class="t" id="bera" style="left:1899.09px;top:602.37px;font-size:24.39px;letter-spacing:0.000px;transform:scaleX(0.9979);transform-origin:0 0;color:#111;">BERA</div>
<div class="t" id="r_usd2" style="left:1466.94px;top:678.72px;font-size:21.74px;letter-spacing:0.000px;transform:scaleX(1.0477);transform-origin:0 0;color:#222;">$<span style="display:inline-block;transform:scaleX(1.22);transform-origin:0 50%;margin-right:0.12em">0</span></div>
<div class="t" id="r_bal2" style="left:1975.61px;top:678.06px;font-size:24.64px;letter-spacing:0.000px;transform:scaleX(1.0236);transform-origin:0 0;color:#111;">3.62</div>
<div class="t" id="recv" style="left:1456.27px;top:777.61px;font-size:21.16px;letter-spacing:0.000px;transform:scaleX(1.0289);transform-origin:0 0;color:#222;">Receive <b>0</b> iBGT <span style="color:#666">($0)</span></div>
<div class="t" id="pi" style="left:1441.70px;top:845.52px;font-size:21.74px;letter-spacing:0.000px;transform:scaleX(1.0508);transform-origin:0 0;color:#666;">Price impact</div>
<div class="t" id="pi_v" style="left:2022.65px;top:845.91px;font-size:22.35px;letter-spacing:0.000px;transform:scaleX(0.9755);transform-origin:0 0;color:#666;">0%</div>
<div class="t" id="fee" style="left:1441.63px;top:888.52px;font-size:21.74px;letter-spacing:0.000px;transform:scaleX(0.9900);transform-origin:0 0;color:#666;">Fee (0%)</div>
<div class="t" id="fee_v" style="left:1950.96px;top:888.52px;font-size:21.74px;letter-spacing:0.000px;transform:scaleX(1.0160);transform-origin:0 0;color:#666;">BERA ($0)</div>
<div class="t" id="ord" style="left:1442.29px;top:931.81px;font-size:22.56px;letter-spacing:0.000px;transform:scaleX(1.0174);transform-origin:0 0;color:#666;">Order route</div>
<div class="t" id="b_sw" style="left:1716.20px;top:1014.94px;font-size:23.72px;letter-spacing:0.000px;transform:scaleX(1.0960);transform-origin:0 0;color:#fff;-webkit-text-stroke:0.45px #fff;">Swap</div>
</div>
<svg style="left:0;top:0" width="400" height="300" viewBox="0 0 400 300"><ellipse cx="136" cy="247.8" rx="27" ry="3.4" fill="#fff"/><ellipse cx="124" cy="250.5" rx="30" ry="3" fill="#fff"/><path d="M111 246.5Q125 243 140 243.2Q152 243.5 162 247.5Q150 245.6 138 246Q122 246.300 111 246.500Z" fill="#cfcfcf"/></svg>

</body></html>
